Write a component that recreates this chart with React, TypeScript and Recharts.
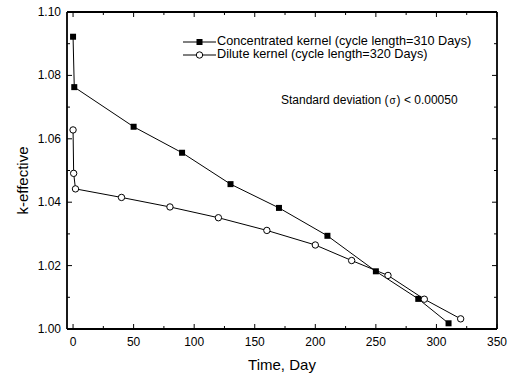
import React from "react";
import { LineChart, Line, XAxis, YAxis } from "recharts";

const concDays = [0, 1, 50, 90, 130, 170, 210, 250, 285, 310];
const concK = [1.0922, 1.0763, 1.0638, 1.0556, 1.0457, 1.0382, 1.0294, 1.0182, 1.0095, 1.0018];
const diluteDays = [0, 0.5, 2, 40, 80, 120, 160, 200, 230, 260, 290, 320];
const diluteK = [1.0628, 1.0491, 1.0442, 1.0415, 1.0385, 1.0351, 1.0311, 1.0265, 1.0216, 1.0169, 1.0094, 1.0032];

const xTicks = [0, 25, 50, 75, 100, 125, 150, 175, 200, 225, 250, 275, 300, 325, 350];
const yTicks = [1.0, 1.01, 1.02, 1.03, 1.04, 1.05, 1.06, 1.07, 1.08, 1.09, 1.1];
const xDomain = [-5, 350];
const yDomain = [1.0, 1.1];

const concName = "Concentrated kernel (cycle length=310 Days)";
const diluteName = "Dilute kernel (cycle length=320 Days)";
const notePre = "Standard deviation (";
const noteSigma = "\u03c3";
const notePost = ") < 0.00050";
const xTitle = "Time, Day";
const yTitle = "k-effective";

const concData = concDays.map((d, i) => ({ day: d, k: concK[i] }));
const diluteData = diluteDays.map((d, i) => ({ day: d, k: diluteK[i] }));

const FONT = "'Liberation Sans', Arial, sans-serif";

// chart layout (margins / axis sizes)
const CHART_W = 515;
const CHART_H = 376;
const MARGIN = { top: 12, right: 18, bottom: 0, left: 0 };
const Y_AXIS_W = 67;
const X_AXIS_H = 47;
const PLOT_TOP = MARGIN.top;
const PLOT_RIGHT = CHART_W - MARGIN.right;

const isMajorX = (v: number) => v % 50 === 0;
const isMajorY = (v: number) => Math.round(v * 100) % 2 === 0;

const plotTopOf = (p: any) => {
  const vb = p.viewBox;
  if (vb && typeof vb.y === "number" && typeof vb.height === "number" && Math.abs(vb.y + vb.height - p.y) < 2) return vb.y;
  return PLOT_TOP;
};
const plotRightOf = (p: any) => {
  const vb = p.viewBox;
  if (vb && typeof vb.x === "number" && typeof vb.width === "number" && Math.abs(vb.x - p.x) < 2) return vb.x + vb.width;
  return PLOT_RIGHT;
};

// bottom axis ticks, mirrored ticks on the top edge and the right frame edge
const BottomTick = (p: any) => {
  const { x, y, payload } = p;
  const major = isMajorX(payload.value);
  const len = major ? 5 : 3;
  const top = plotTopOf(p);
  const isLast = payload.value === xDomain[1];
  return (
    <g>
      <line x1={x} x2={x} y1={y} y2={y - len} stroke="#000" strokeWidth={1} />
      <line x1={x} x2={x} y1={top} y2={top + len} stroke="#000" strokeWidth={1} />
      {isLast && <line x1={x} x2={x} y1={y} y2={top} stroke="#000" strokeWidth={1.8} />}
      {major && (
        <text x={x} y={y + 17} textAnchor="middle" fontSize={12} fontFamily={FONT} fill="#000">
          {payload.value}
        </text>
      )}
    </g>
  );
};

// left axis ticks, mirrored ticks on the right edge and the top frame edge
const LeftTick = (p: any) => {
  const { x, y, payload } = p;
  const major = isMajorY(payload.value);
  const len = major ? 5 : 3;
  const right = plotRightOf(p);
  const isTop = Math.abs(payload.value - yDomain[1]) < 1e-9;
  return (
    <g>
      <line x1={x} x2={x + len} y1={y} y2={y} stroke="#000" strokeWidth={1} />
      <line x1={right} x2={right - len} y1={y} y2={y} stroke="#000" strokeWidth={1} />
      {isTop && <line x1={x} x2={right} y1={y} y2={y} stroke="#000" strokeWidth={1.8} />}
      {major && (
        <text x={x - 6} y={y + 4} textAnchor="end" fontSize={12} fontFamily={FONT} fill="#000">
          {payload.value.toFixed(2)}
        </text>
      )}
    </g>
  );
};

const SquareDot = (p: any) => {
  const { cx, cy } = p;
  if (cx == null || cy == null) return null;
  return <rect x={cx - 3} y={cy - 3} width={6} height={6} fill="#000" />;
};
const CircleDot = (p: any) => {
  const { cx, cy } = p;
  if (cx == null || cy == null) return null;
  return <circle cx={cx} cy={cy} r={3.2} fill="#fff" stroke="#000" strokeWidth={1} />;
};

const LegendBox = () => (
  <div
    style={{
      position: "absolute",
      left: 183,
      top: 35,
      width: 300,
      height: 80,
      fontFamily: FONT,
      fontSize: 12.7,
      color: "#000",
      pointerEvents: "none",
    }}
  >
    {[
      { name: concName, square: true },
      { name: diluteName, square: false },
    ].map((it, i) => (
      <div key={i} style={{ display: "flex", alignItems: "center", height: 13, lineHeight: "13px" }}>
        <svg width={33} height={12} style={{ display: "block" }}>
          <line x1={0} x2={33} y1={6} y2={6} stroke="#000" strokeWidth={1} />
          {it.square ? (
            <rect x={13.5} y={3} width={6} height={6} fill="#000" />
          ) : (
            <circle cx={16.5} cy={6} r={3.2} fill="#fff" stroke="#000" strokeWidth={1} />
          )}
        </svg>
        <span style={{ marginLeft: 1, whiteSpace: "nowrap" }}>{it.name}</span>
      </div>
    ))}
    <div style={{ position: "absolute", left: 98, top: 58, whiteSpace: "nowrap", fontSize: 12, lineHeight: "14px" }}>
      {notePre}
      <span style={{ fontSize: 10, margin: "0 1px" }}>{noteSigma}</span>
      {notePost}
    </div>
  </div>
);

const AxisTitles = () => (
  <>
    <div
      style={{
        position: "absolute",
        left: 182,
        top: 357,
        width: 200,
        height: 15,
        lineHeight: "15px",
        fontSize: 15,
        fontFamily: FONT,
        color: "#000",
        textAlign: "center",
        whiteSpace: "nowrap",
        pointerEvents: "none",
      }}
    >
      {xTitle}
    </div>
    <div
      style={{
        position: "absolute",
        left: 22 - 50,
        top: 180 - 7.5,
        width: 100,
        height: 15,
        lineHeight: "15px",
        fontSize: 15,
        fontFamily: FONT,
        color: "#000",
        textAlign: "center",
        whiteSpace: "nowrap",
        transform: "rotate(-90deg)",
        pointerEvents: "none",
      }}
    >
      {yTitle}
    </div>
  </>
);

export default function App() {
  return (
    <div
      style={{
        position: "absolute",
        left: 0,
        top: 0,
        width: CHART_W,
        height: CHART_H,
        background: "#fff",
        overflow: "hidden",
      }}
    >
      <LineChart width={CHART_W} height={CHART_H} margin={MARGIN}>
        <XAxis
          xAxisId="b"
          dataKey="day"
          type="number"
          domain={xDomain}
          ticks={xTicks}
          height={X_AXIS_H}
          tickSize={0}
          tickMargin={0}
          tick={<BottomTick />}
          axisLine={{ stroke: "#000", strokeWidth: 1.8 }}
        />
        <YAxis
          yAxisId="l"
          type="number"
          domain={yDomain}
          ticks={yTicks}
          width={Y_AXIS_W}
          tickSize={0}
          tickMargin={0}
          tick={<LeftTick />}
          axisLine={{ stroke: "#000", strokeWidth: 1.8 }}
        />
        <Line
          xAxisId="b"
          yAxisId="l"
          data={concData}
          dataKey="k"
          name={concName}
          stroke="#000"
          strokeWidth={1}
          dot={<SquareDot />}
          isAnimationActive={false}
        />
        <Line
          xAxisId="b"
          yAxisId="l"
          data={diluteData}
          dataKey="k"
          name={diluteName}
          stroke="#000"
          strokeWidth={1}
          dot={<CircleDot />}
          isAnimationActive={false}
        />
      </LineChart>
      <LegendBox />
      <AxisTitles />
    </div>
  );
}
